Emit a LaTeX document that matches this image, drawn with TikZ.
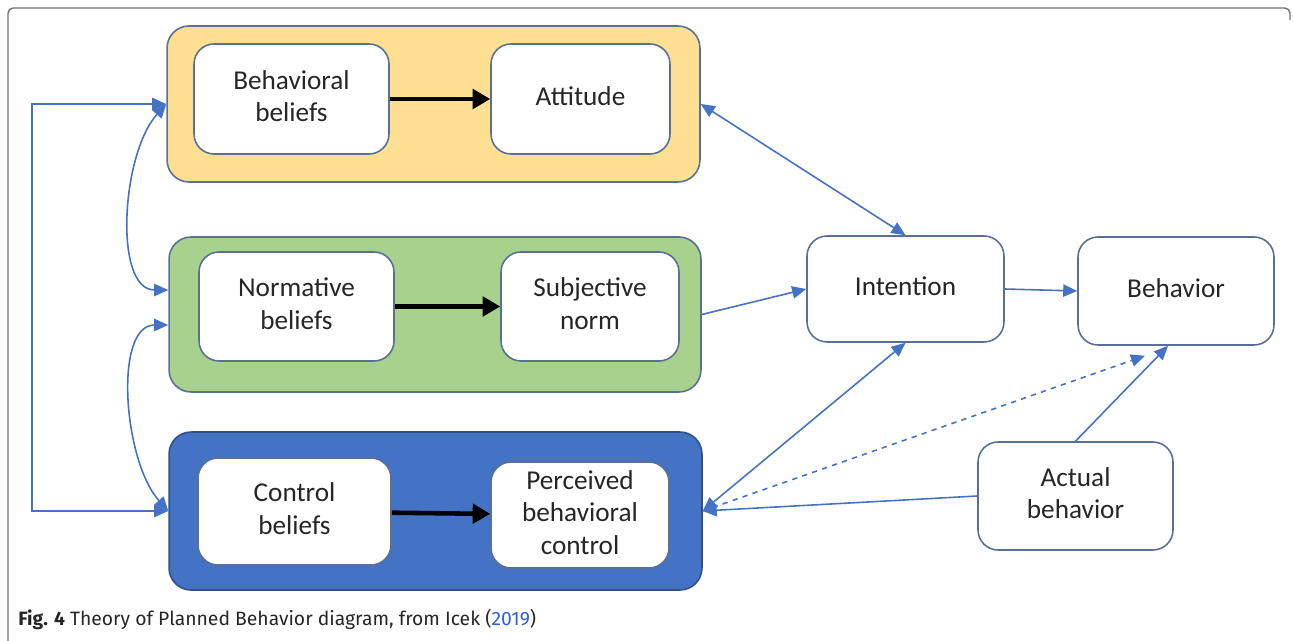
\documentclass[tikz,border=0pt]{standalone}
\usepackage{fontspec}
\setmainfont{Carlito}
\newfontfamily\capfont{Fira Sans}
\usetikzlibrary{arrows.meta}
\definecolor{yelfill}{HTML}{FFE092}
\definecolor{grnfill}{HTML}{A9D18E}
\definecolor{blufill}{HTML}{4472C4}
\definecolor{linkblue}{HTML}{4472C4}
\definecolor{boxline}{HTML}{5A6F96}
\definecolor{capblue}{HTML}{2F5FD0}
\tikzset{
  group/.style={rectangle,rounded corners=0.44cm,draw=boxline,line width=0.9pt},
  item/.style={rectangle,rounded corners=0.4cm,draw=boxline,fill=white,line width=0.9pt,
    text=black!85,inner sep=0pt,font=\fontsize{15.5}{18.5}\selectfont},
  link/.style={draw=linkblue,line width=0.9pt,-{Triangle[length=8pt,width=7pt]}},
  both/.style={link,{Triangle[length=8pt,width=7pt]}-{Triangle[length=8pt,width=7pt]}},
  push/.style={line width=2.6pt,-{Triangle[length=10pt,width=11pt]}},
  frame/.style={draw=black!55,line width=0.8pt,rounded corners=3pt}
}
\begin{document}
\begin{tikzpicture}[x=0.02cm,y=-0.02cm]
\useasboundingbox (0,0) rectangle (1293,641);
\draw[frame] (8,645) -- (8,8) -- (1290,8) -- (1290,20);
\node (GATT) at (433.5,104) [group,fill=yelfill,minimum width=10.66cm,minimum height=3.12cm] {};
\node (GSN) at (435,314.5) [group,fill=grnfill,minimum width=10.64cm,minimum height=3.10cm] {};
\node (GPBC) at (435.5,511) [group,fill=blufill,draw=blufill!70!black,minimum width=10.66cm,minimum height=3.16cm] {};
\node (BB) at (291.5,99) [item,minimum width=3.9cm,minimum height=2.2cm] {\begin{tabular}{c}Behavioral\\ beliefs\end{tabular}};
\node (ATT) at (580.5,99) [item,minimum width=3.58cm,minimum height=2.2cm] {\begin{tabular}{c}Attitude\end{tabular}};
\node (NB) at (296.5,306.5) [item,minimum width=3.9cm,minimum height=2.18cm] {\begin{tabular}{c}Normative\\ beliefs\end{tabular}};
\node (SN) at (590,306.5) [item,minimum width=3.56cm,minimum height=2.18cm] {\begin{tabular}{c}Subjective\\ norm\end{tabular}};
\node (CB) at (294.5,511.5) [item,minimum width=3.86cm,minimum height=2.14cm] {\begin{tabular}{c}Control\\ beliefs\end{tabular}};
\node (PBC) at (580,515) [item,minimum width=3.56cm,minimum height=2.12cm] {\begin{tabular}{c}Perceived\\ behavioral\\ control\end{tabular}};
\node (INT) at (905.5,289) [item,minimum width=3.94cm,minimum height=2.12cm] {\begin{tabular}{c}Intention\end{tabular}};
\node (BEH) at (1176,291) [item,minimum width=3.92cm,minimum height=2.16cm] {\begin{tabular}{c}Behavior\end{tabular}};
\node (AB) at (1075.5,496) [item,minimum width=3.9cm,minimum height=2.16cm] {\begin{tabular}{c}Actual\\ behavior\end{tabular}};
\node (CAP) at (18,619) [anchor=west,inner sep=0pt,font=\capfont\fontsize{11}{13}\selectfont,text=black!85] {\textbf{Fig. 4} Theory of Planned Behavior diagram, from Icek ({\color{capblue}2019})};
\coordinate (LFT) at (32,0);
\draw[push] (BB) -- (ATT);
\draw[push] (NB) -- (SN);
\draw[push] (CB) -- (PBC);
\draw[both] (GATT.west) -- (GATT.west -| LFT) -- (GPBC.west -| LFT) -- (GPBC.west);
\draw[both] (GATT.west) .. controls +(-45,50) and +(-55,0) .. ([yshift=0.49cm]GSN.west);
\draw[both] ([yshift=-0.21cm]GSN.west) .. controls +(-55,0) and +(-45,-50) .. (GPBC.west);
\draw[both] (GATT.east) -- (INT.north);
\draw[link] (GSN.east) -- (INT.west);
\draw[both] (GPBC.east) -- (INT.south);
\draw[link,dashed] (GPBC.east) -- ([xshift=-0.62cm,yshift=-0.2cm]BEH.south);
\draw[link] (AB.west) -- (GPBC.east);
\draw[link] (AB.north) -- ([xshift=-0.16cm]BEH.south);
\draw[link] (INT.east) -- (BEH.west);
\end{tikzpicture}
\end{document}
